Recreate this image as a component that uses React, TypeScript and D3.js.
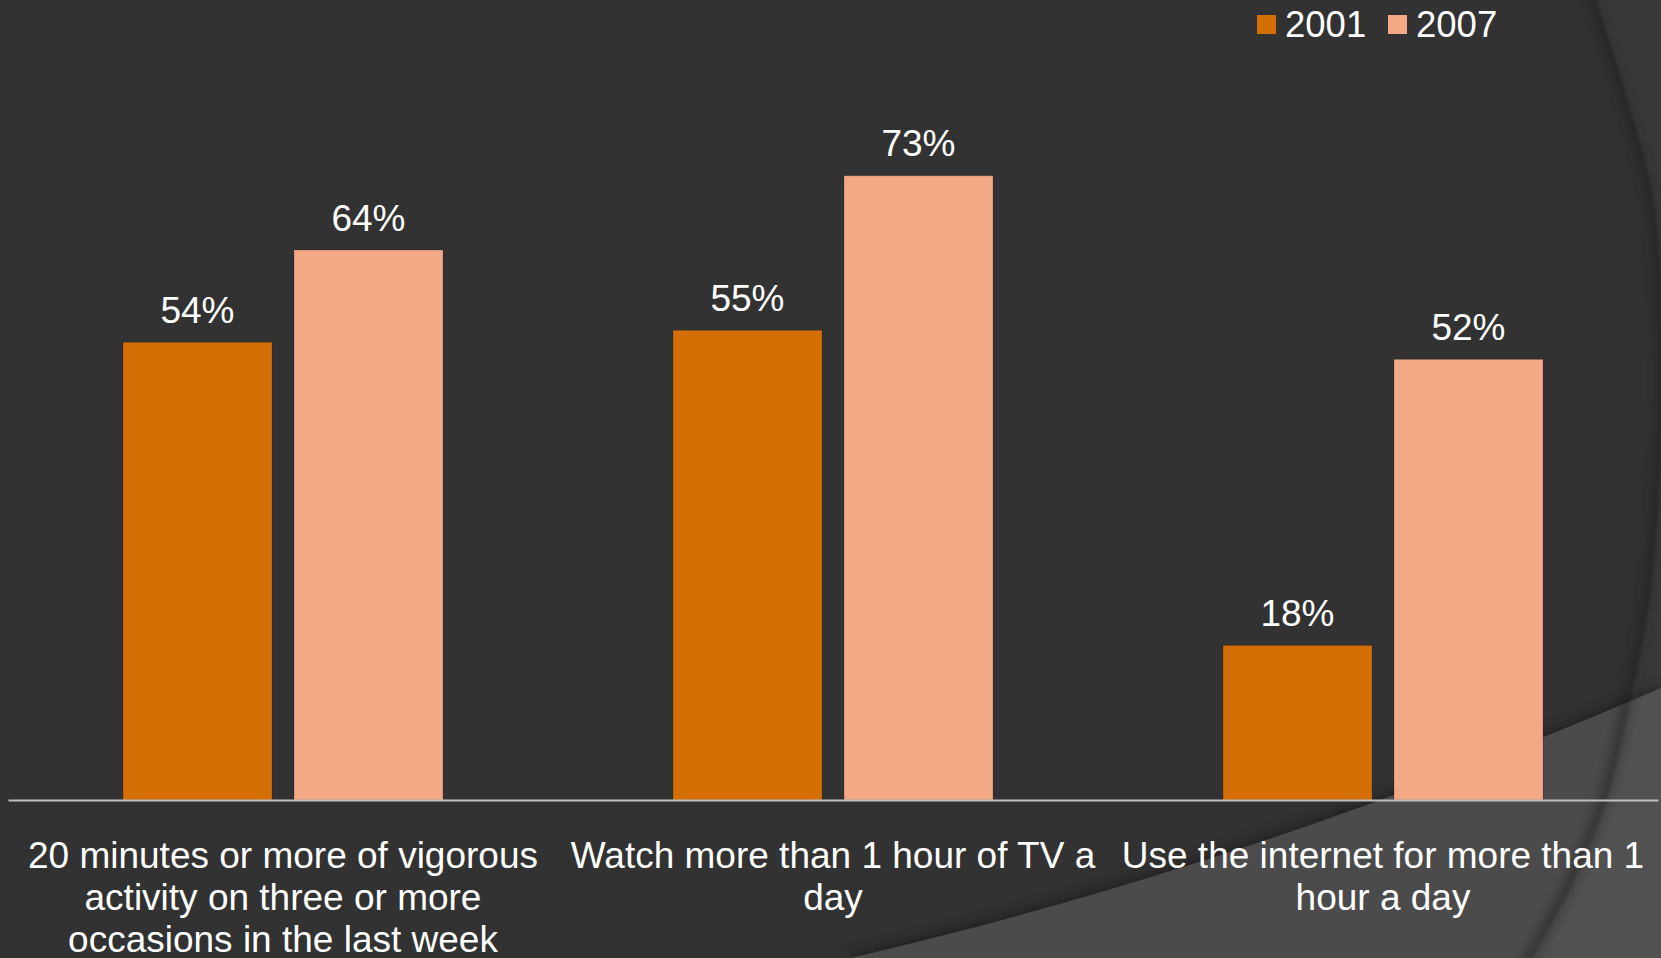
import { useEffect, useRef } from "react";
import * as d3 from "d3";

const categories = [
  "20 minutes or more of vigorous activity on three or more occasions in the last week",
  "Watch more than 1 hour of TV a day",
  "Use the internet for more than 1 hour a day",
];
const seriesNames = ["2001", "2007"];
const values2001 = [53.6, 55.0, 18.1];
const values2007 = [64.4, 73.1, 51.6];
const seriesColors = ["#d46f06", "#f3a886"];

const W = 1661;
const H = 958;
const FONT = "'Liberation Sans', Arial, sans-serif";

// wrap a label to lines no wider than maxW, measured on a canvas
function wrapText(text: string, maxW: number, font: string) {
  const ctx = document.createElement("canvas").getContext("2d")!;
  ctx.font = font;
  const words = text.split(" ");
  const lines: string[] = [];
  let cur = "";
  words.forEach((w) => {
    const next = cur ? cur + " " + w : w;
    if (ctx.measureText(next).width > maxW && cur) {
      lines.push(cur);
      cur = w;
    } else cur = next;
  });
  if (cur) lines.push(cur);
  return lines;
}

export default function App() {
  const ref = useRef<SVGSVGElement>(null);

  useEffect(() => {
    const svg = d3.select(ref.current);
    svg.selectAll("*").remove();

    var margin = { left: 8, right: 3, axisY: 800 };

    // background & theme decoration
    const defs = svg.append("defs");
    defs
      .append("filter")
      .attr("id", "blur")
      .attr("x", "-20%")
      .attr("y", "-20%")
      .attr("width", "140%")
      .attr("height", "140%")
      .append("feGaussianBlur")
      .attr("stdDeviation", 5);

    svg.append("rect").attr("width", W).attr("height", H).attr("fill", "#323232");

    const lowerCurve = "M850,958 Q1250,866 1661,688";
    svg
      .append("path")
      .attr("d", lowerCurve)
      .attr("fill", "none")
      .attr("stroke", "#1e1e1e")
      .attr("stroke-width", 12)
      .attr("opacity", 0.6)
      .attr("filter", "url(#blur)");
    svg
      .append("path")
      .attr("d", lowerCurve + " L1661,958 Z")
      .attr("fill", "#4b4b4b");

    const arcPts: [number, number][] = [
      [1590, -30], [1597, 0], [1628, 100], [1654, 200], [1662, 300], [1664, 400],
      [1659, 500], [1650, 600], [1631, 700], [1607, 800], [1575, 880], [1533, 958], [1515, 990],
    ];
    const arcLine = d3.line().curve(d3.curveCatmullRom)(arcPts)!;
    svg
      .append("path")
      .attr("d", arcLine)
      .attr("fill", "none")
      .attr("stroke", "#1e1e1e")
      .attr("stroke-width", 10)
      .attr("opacity", 0.5)
      .attr("filter", "url(#blur)")
      .attr("transform", "translate(-4,0)");
    svg
      .append("path")
      .attr("d", arcLine + " L1700,990 L1700,-30 Z")
      .attr("fill", "#ffffff")
      .attr("opacity", 0.035);

    // scales
    const x0 = d3
      .scaleBand()
      .domain(categories)
      .range([margin.left, W - margin.right])
      .padding(0);
    const x1 = d3
      .scaleBand()
      .domain(seriesNames)
      .range([0, x0.bandwidth()])
      .paddingInner(0.1287)
      .paddingOuter(0.6725);
    const y = d3.scaleLinear().domain([0, 80]).range([margin.axisY, margin.axisY - 683.2]);

    const rows = categories.map((c, i) => ({
      category: c,
      vals: [
        { key: "2001", value: values2001[i] },
        { key: "2007", value: values2007[i] },
      ],
    }));
    const color = d3.scaleOrdinal<string>().domain(seriesNames).range(seriesColors);
    const fmt = d3.format(".0%");

    const groups = svg
      .selectAll("g.cat")
      .data(rows)
      .enter()
      .append("g")
      .attr("class", "cat")
      .attr("transform", (d) => "translate(" + x0(d.category) + ",0)");

    groups
      .selectAll("rect")
      .data((d) => d.vals)
      .enter()
      .append("rect")
      .attr("x", (d) => x1(d.key)!)
      .attr("y", (d) => y(d.value))
      .attr("width", x1.bandwidth())
      .attr("height", (d) => y(0) - y(d.value))
      .attr("fill", (d) => color(d.key))
      .attr("stroke", "rgba(0,0,0,0.18)")
      .attr("stroke-width", 1);

    groups
      .selectAll("text.val")
      .data((d) => d.vals)
      .enter()
      .append("text")
      .attr("class", "val")
      .attr("x", (d) => x1(d.key)! + x1.bandwidth() / 2)
      .attr("y", (d) => y(d.value) - 19.5)
      .attr("text-anchor", "middle")
      .attr("fill", "#ffffff")
      .style("font-family", FONT)
      .style("font-size", "37px")
      .text((d) => fmt(d.value / 100));

    // x axis (baseline only)
    const axis = svg
      .append("g")
      .attr("transform", "translate(0," + margin.axisY + ")")
      .call(d3.axisBottom(x0).tickSize(0).tickSizeOuter(0).tickFormat(() => ""));
    axis.select(".domain").attr("stroke", "#bfbfbf").attr("stroke-width", 2);
    axis.selectAll(".tick").remove();

    // category labels, wrapped
    const labelFont = "37px " + FONT;
    categories.forEach((c) => {
      const lines = wrapText(c, 540, labelFont);
      const t = svg
        .append("text")
        .attr("text-anchor", "middle")
        .attr("fill", "#ffffff")
        .style("font-family", FONT)
        .style("font-size", "37px");
      lines.forEach((ln, i) => {
        t.append("tspan")
          .attr("x", x0(c)! + x0.bandwidth() / 2)
          .attr("y", 868 + i * 42)
          .text(ln);
      });
    });

    // legend
    const legendX = [1257, 1388];
    const legend = svg
      .selectAll("g.leg")
      .data(seriesNames)
      .enter()
      .append("g")
      .attr("class", "leg")
      .attr("transform", (d, i) => "translate(" + legendX[i] + ",0)");
    legend
      .append("rect")
      .attr("x", 0)
      .attr("y", 15)
      .attr("width", 19)
      .attr("height", 19)
      .attr("fill", (d) => color(d));
    legend
      .append("text")
      .attr("x", 28)
      .attr("y", 37)
      .attr("fill", "#ffffff")
      .style("font-family", FONT)
      .style("font-size", "36.5px")
      .text((d) => d);
  }, []);

  return (
    <svg
      ref={ref}
      width={W}
      height={H}
      style={{ position: "fixed", left: 0, top: 0, display: "block" }}
    />
  );
}
